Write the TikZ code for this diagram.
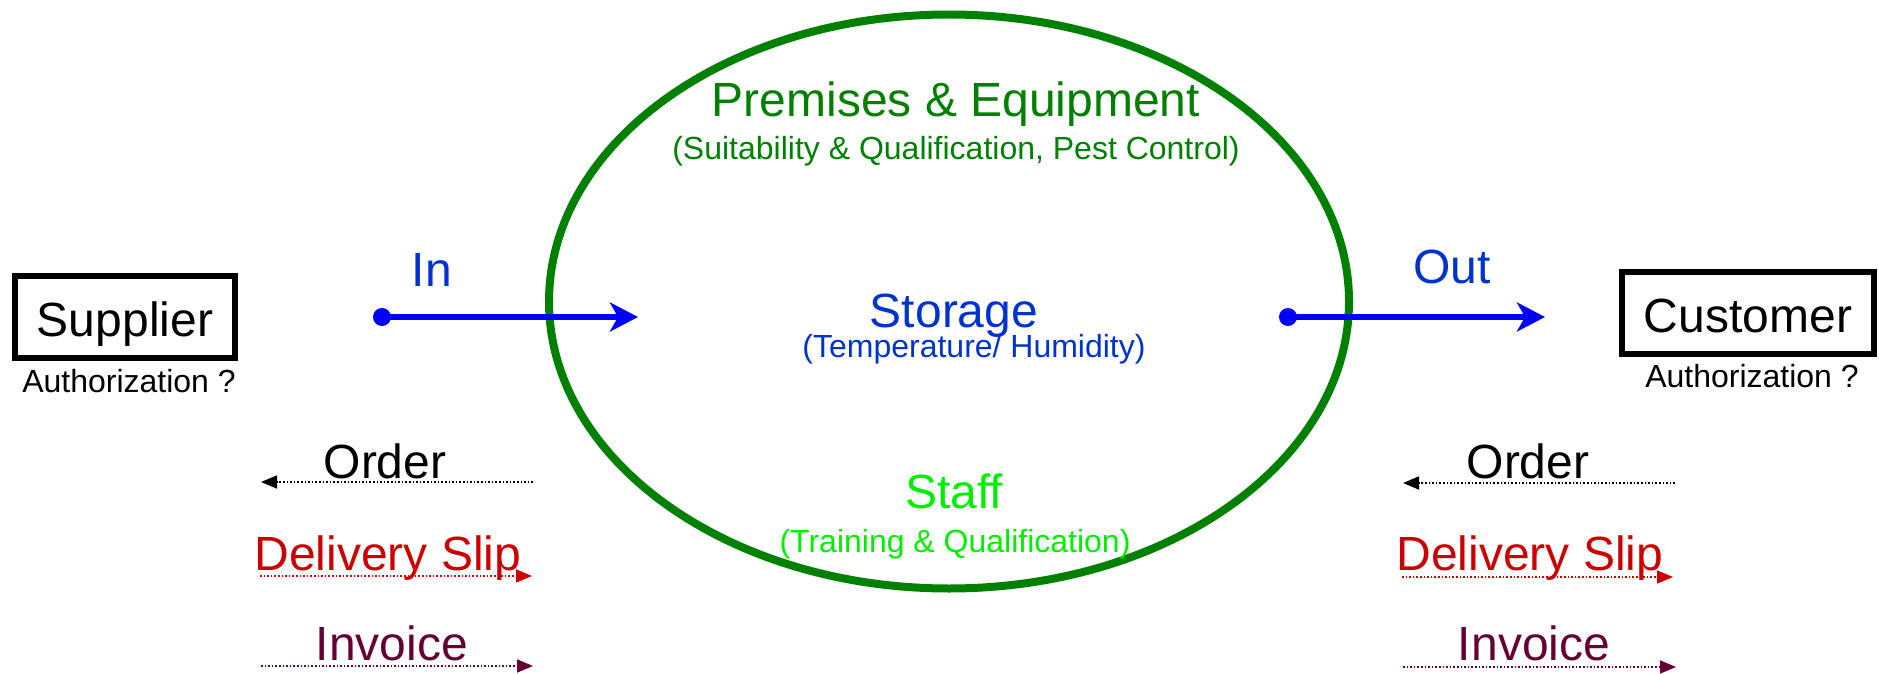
\documentclass[tikz,border=0pt]{standalone}
\usepackage{fontspec}
\setmainfont{Liberation Sans}
\usetikzlibrary{arrows.meta}

\definecolor{premgreen}{RGB}{0,128,0}
\definecolor{staffgreen}{RGB}{0,238,0}
\definecolor{flowblue}{RGB}{0,51,204}
\definecolor{slipred}{RGB}{204,0,0}
\definecolor{invoicered}{RGB}{102,0,51}

\tikzset{
  bigtext/.style={font=\fontsize{24}{28}\selectfont, anchor=base, inner sep=0pt},
  subtext/.style={font=\fontsize{16}{19}\selectfont, anchor=base, inner sep=0pt},
  partybox/.style={draw, line width=3pt, inner xsep=11pt, inner ysep=0pt,
    text height=30pt, text depth=11pt, font=\fontsize{24}{28}\selectfont},
  flowdot/.style={circle, fill=blue, inner sep=0pt, minimum size=9pt},
  flowarrow/.style={blue, line width=3pt, -{Stealth[length=14pt,width=14.5pt,inset=4pt]}},
  docarrow/.style={line width=0.8pt, dash pattern=on 0.8pt off 1pt,
    -{Triangle[length=8pt,width=6.5pt]}},
}

\begin{document}
\begin{tikzpicture}[x=0.5pt, y=-0.5pt]

\useasboundingbox (0,0) rectangle (1879,674);

\draw [premgreen, line width=4pt] (949,301.5) ellipse [x radius=400, y radius=287];

\node [bigtext, premgreen] (premises) at (956,117) {Premises \& Equipment};
\node [subtext, premgreen] (premsub) at (956,159) {(Suitability \& Qualification, Pest Control)};

\node [bigtext, flowblue] (storage) at (954,327) {Storage};
\node [subtext, flowblue] (storsub) at (974,357) {(Temperature/ Humidity)};

\node [bigtext, staffgreen] (staff) at (954,508) {Staff};
\node [subtext, staffgreen] (staffsub) at (955,552) {(Training \& Qualification)};

% parties
\node [partybox] (supplier) at (125,317) {Supplier};
\node [subtext] (supauth) at (129,392) {Authorization ?};
\node [partybox] (customer) at (1748,313) {Customer};
\node [subtext] (cusauth) at (1752,387) {Authorization ?};

% goods in / out
\node [flowdot] (indot) at (382,317) {};
\coordinate (inend) at (638,317);
\draw [flowarrow] (indot.center) -- (inend);
\node [bigtext, flowblue] (inlabel) at (432,286) {In};

\node [flowdot] (outdot) at (1288,317) {};
\coordinate (outend) at (1545,317);
\draw [flowarrow] (outdot.center) -- (outend);
\node [bigtext, flowblue] (outlabel) at (1452,283) {Out};

% papers, supplier side
\coordinate (ordLs) at (533,482);
\coordinate (ordLe) at (261,482);
\draw [docarrow] (ordLs) -- (ordLe);
\node [bigtext] (ordL) at (385,478) {Order};

\coordinate (slipLs) at (260,576);
\coordinate (slipLe) at (532,576);
\draw [docarrow, slipred] (slipLs) -- (slipLe);
\node [bigtext, slipred] (slipL) at (388,570) {Delivery Slip};

\coordinate (invLs) at (261,666);
\coordinate (invLe) at (533,666);
\draw [docarrow, invoicered] (invLs) -- (invLe);
\node [bigtext, invoicered] (invL) at (392,660) {Invoice};

% papers, customer side
\coordinate (ordRs) at (1675,483);
\coordinate (ordRe) at (1403,483);
\draw [docarrow] (ordRs) -- (ordRe);
\node [bigtext] (ordR) at (1528,478) {Order};

\coordinate (slipRs) at (1402,577);
\coordinate (slipRe) at (1673,577);
\draw [docarrow, slipred] (slipRs) -- (slipRe);
\node [bigtext, slipred] (slipR) at (1530,570) {Delivery Slip};

\coordinate (invRs) at (1403,667);
\coordinate (invRe) at (1676,667);
\draw [docarrow, invoicered] (invRs) -- (invRe);
\node [bigtext, invoicered] (invR) at (1534,660) {Invoice};

\end{tikzpicture}
\end{document}
